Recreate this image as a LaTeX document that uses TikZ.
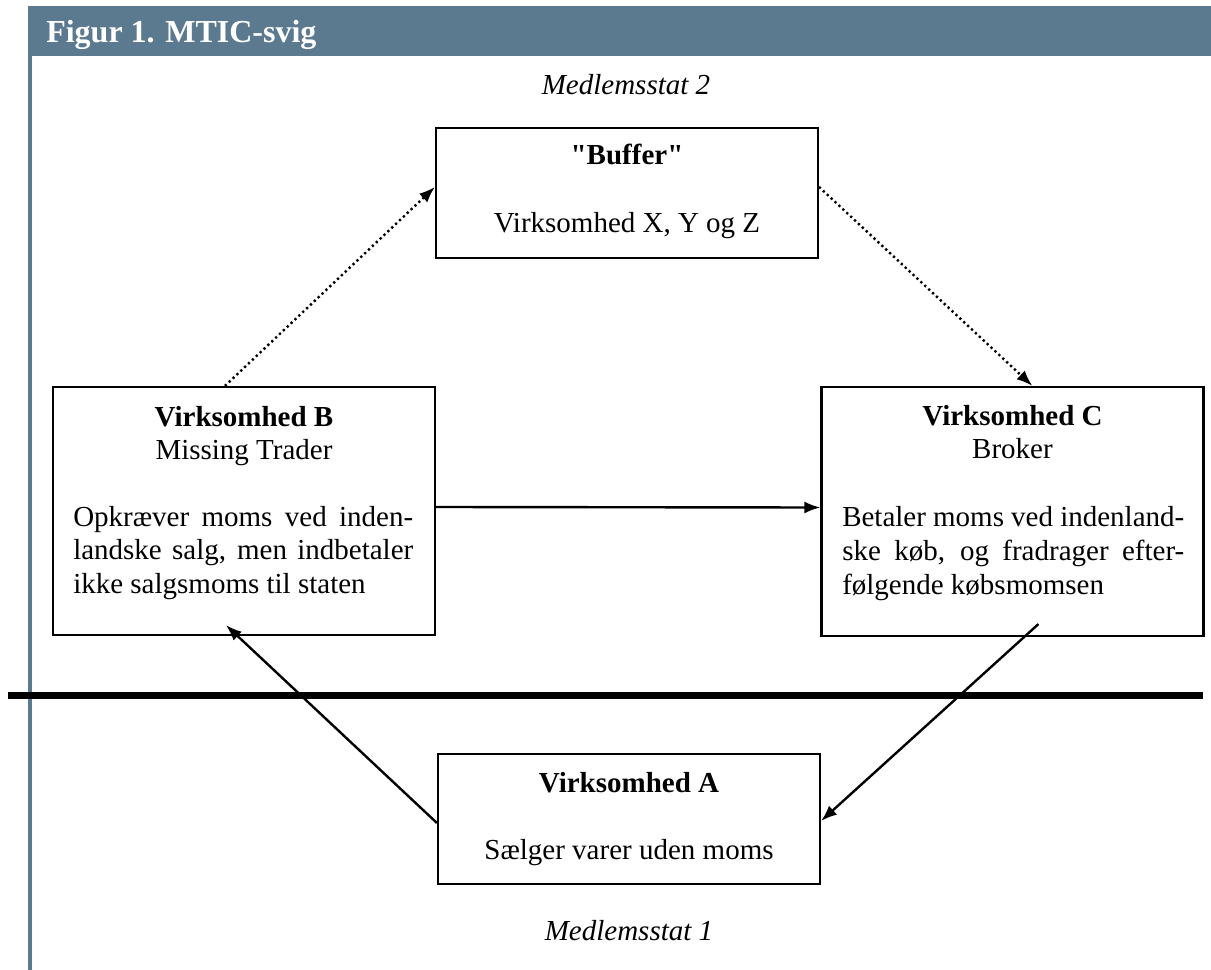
\documentclass[tikz,border=0pt]{standalone}
\usepackage{fontspec}
\setmainfont{Liberation Serif}
\usetikzlibrary{arrows.meta,calc}
\definecolor{hdr}{RGB}{91,122,144}
\newcommand\txtsize{\fontsize{21.75pt}{25pt}\selectfont}
\begin{document}
\begin{tikzpicture}[x=0.75pt,y=-0.75pt,
  box/.style={draw,line width=1.6pt,minimum width=286.5pt,inner sep=0pt},
  txt/.style={inner sep=0pt,font=\txtsize},
  ttl/.style={txt,font=\txtsize\bfseries,anchor=base},
  conn/.style={line width=1.8pt,-{Latex[length=12pt,width=9pt]}},
  dots/.style={conn,dash pattern=on 1.7pt off 2.3pt}]
\useasboundingbox (0,0) rectangle (1211,970);
% header and side bar
\fill[hdr] (28,6) rectangle (1211,56);
\fill[hdr] (28,56) rectangle (32,970);
\node[inner sep=0pt,anchor=base west,text=white,font=\fontsize{24pt}{28pt}\selectfont\bfseries] (hd) at (46,43) {Figur 1. MTIC-svig};
% border line
\coordinate (ml) at (8,695.5);
\coordinate (mr) at (1203,695.5);
\draw[line width=5.25pt] (ml) -- (mr);
% labels
\node[txt,font=\txtsize\itshape,anchor=base] (m2) at (626,95) {Medlemsstat 2};
\node[txt,font=\txtsize\itshape,anchor=base] (m1) at (629,940) {Medlemsstat 1};
% boxes
\node[box,minimum height=97.5pt] (buf) at (627,193) {};
\node[box,minimum height=186pt] (B) at (244,511) {};
\node[box,minimum height=186.75pt] (C) at (1012.5,511.5) {};
\node[box,minimum height=97.5pt] (A) at (629,819) {};
% buffer text
\node[ttl] (buft) at (627,165) {\textquotedbl Buffer\textquotedbl};
\node[txt,anchor=base] (bufs) at (627,233) {Virksomhed X, Y og Z};
% B text
\node[ttl] (Bt) at (244,426) {Virksomhed B};
\node[txt,anchor=base] (Bs) at (244,459) {Missing Trader};
\node[txt,anchor=base west] (B1) at (73,526) {\makebox[255pt][s]{Opkræver moms ved inden-}};
\node[txt,anchor=base west] (B2) at (73,559.5) {\makebox[255pt][s]{landske salg, men indbetaler}};
\node[txt,anchor=base west] (B3) at (73,593) {ikke salgsmoms til staten};
% C text
\node[ttl] (Ct) at (1012.5,425.5) {Virksomhed C};
\node[txt,anchor=base] (Cs) at (1012.5,458.5) {Broker};
\node[txt,anchor=base west] (C1) at (842,526) {\makebox[256.5pt][s]{Betaler moms ved indenland-}};
\node[txt,anchor=base west] (C2) at (842,560) {\makebox[256.5pt][s]{ske køb, og fradrager efter-}};
\node[txt,anchor=base west] (C3) at (842,594) {følgende købsmomsen};
% A text
\node[ttl] (At) at (629,792) {Virksomhed A};
\node[txt,anchor=base] (As) at (629,859) {Sælger varer uden moms};
% connectors
\draw[dots] ($(B.north west)+(173,0)$) -- ($(buf.north west)+(0,60)$);
\draw[dots] ($(buf.north east)+(0,60)$) -- ($(C.north west)+(212,0)$);
\draw[conn] ($(B.east)+(0,-4)$) -- ($(C.west)+(0,-4)$);
\draw[conn] ($(C.south west)+(218,-13)$) -- ($(A.east)+(0,2)$);
\draw[conn] ($(A.west)+(0,4)$) -- ($(B.south west)+(174,-11)$);
\end{tikzpicture}
\end{document}
